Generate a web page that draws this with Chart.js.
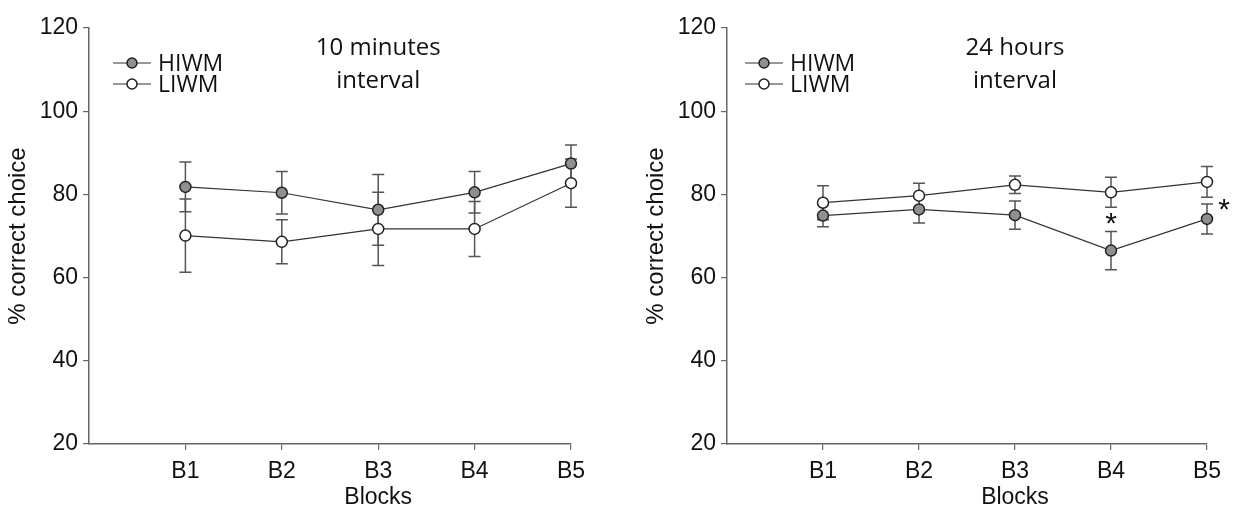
<!DOCTYPE html>
<html>
<head>
<meta charset="utf-8">
<script src="https://cdn.jsdelivr.net/npm/chart.js@4.4.1/dist/chart.umd.min.js"></script>
<style>
  body { margin: 0; background: #fff; }
  #wrap { position: relative; width: 1233px; height: 512px; }
  canvas { position: absolute; top: 0; }
</style>
</head>
<body>
<div id="wrap">
  <canvas id="left" width="620" height="512" style="left:0px"></canvas>
  <canvas id="right" width="595" height="512" style="left:638px"></canvas>
</div>
<script>
// data
var blocks = ['B1', 'B2', 'B3', 'B4', 'B5'];
var yTicks = [20, 40, 60, 80, 100, 120];
var seriesNames = ['HIWM', 'LIWM'];

var hiwm10 = [81.8, 80.4, 76.3, 80.5, 87.4];
var hiwm10Err = [6.0, 5.1, 8.5, 5.0, 4.5];
var liwm10 = [70.1, 68.6, 71.7, 71.7, 82.7];
var liwm10Err = [8.8, 5.3, 8.8, 6.6, 5.8];

var hiwm24 = [74.9, 76.4, 75.0, 66.5, 74.1];
var hiwm24Err = [2.7, 3.3, 3.4, 4.6, 3.6];
var liwm24 = [78.0, 79.7, 82.3, 80.5, 83.0];
var liwm24Err = [4.1, 3.0, 2.1, 3.6, 3.7];

// where the significance star goes for HIWM in each block ('' = none)
var sig10 = ['', '', '', '', ''];
var sig24 = ['', '', '', 'above', 'right'];

var titleFont = '"Open Sans", sans-serif';
var axisFont = '"Liberation Sans", Arial, sans-serif';

function toPoints(vals) {
  return vals.map(function (v, i) { return { x: i + 1, y: v }; });
}

// error bars, legend, panel title, x title and stars
var extras = {
  id: 'extras',
  beforeDatasetsDraw: function (chart) {
    var ctx = chart.ctx;
    var xs = chart.scales.x, ys = chart.scales.y;
    chart.data.datasets.forEach(function (ds) {
      ds.err.forEach(function (e, i) {
        var px = xs.getPixelForValue(i + 1);
        var top = ys.getPixelForValue(ds.data[i].y + e);
        var bot = ys.getPixelForValue(ds.data[i].y - e);
        ctx.save();
        ctx.strokeStyle = '#555';
        ctx.lineWidth = 1.5;
        ctx.beginPath();
        ctx.moveTo(px, top); ctx.lineTo(px, bot);
        ctx.moveTo(px - 6, top); ctx.lineTo(px + 6, top);
        ctx.moveTo(px - 6, bot); ctx.lineTo(px + 6, bot);
        ctx.stroke();
        ctx.restore();
      });
    });
  },
  afterDraw: function (chart) {
    var ctx = chart.ctx;
    var opts = chart.options.plugins.extras;
    var xs = chart.scales.x, ys = chart.scales.y;
    var area = chart.chartArea;

    // legend
    chart.data.datasets.forEach(function (ds, k) {
      var y = opts.legendY + k * 21;
      var mx = area.left + opts.legendX;
      ctx.save();
      ctx.strokeStyle = '#333';
      ctx.lineWidth = 1.2;
      ctx.beginPath();
      ctx.moveTo(mx - 19, y); ctx.lineTo(mx + 19, y);
      ctx.stroke();
      ctx.beginPath();
      ctx.arc(mx, y, 5, 0, Math.PI * 2);
      ctx.fillStyle = ds.pointBackgroundColor;
      ctx.fill();
      ctx.lineWidth = 1.5;
      ctx.strokeStyle = '#222';
      ctx.stroke();
      ctx.fillStyle = '#111';
      ctx.font = '23px ' + titleFont;
      ctx.textAlign = 'left';
      ctx.textBaseline = 'middle';
      ctx.fillText(ds.label, mx + 26, y + 1);
      ctx.restore();
    });

    // panel title
    var cx = xs.getPixelForValue(3);
    ctx.save();
    ctx.fillStyle = '#111';
    ctx.font = '24px ' + titleFont;
    ctx.textAlign = 'center';
    ctx.textBaseline = 'middle';
    opts.title.forEach(function (line, i) {
      ctx.fillText(line, cx, 48 + i * 33);
    });

    // x axis title centred under B3
    ctx.font = '23px ' + axisFont;
    ctx.fillText('Blocks', cx, 498);

    // stars
    var hi = chart.data.datasets[0];
    ctx.font = '30px ' + axisFont;
    opts.sig.forEach(function (s, i) {
      if (!s) return;
      var px = xs.getPixelForValue(i + 1);
      var topY = ys.getPixelForValue(hi.data[i].y + hi.err[i]);
      if (s === 'above') ctx.fillText('*', px, topY - 7);
      else ctx.fillText('*', px + 17, topY + 7);
    });
    ctx.restore();
  }
};

function makeChart(id, hi, hiErr, lo, loErr, title, sig, legendX, padRight) {
  return new Chart(document.getElementById(id), {
    type: 'line',
    data: {
      datasets: [
        { label: seriesNames[0], data: toPoints(hi), err: hiErr, clip: false,
          borderColor: '#333', borderWidth: 1.2,
          pointBackgroundColor: '#8f8f8f', pointBorderColor: '#222',
          pointBorderWidth: 1.5, pointRadius: 5.5 },
        { label: seriesNames[1], data: toPoints(lo), err: loErr, clip: false,
          borderColor: '#333', borderWidth: 1.2,
          pointBackgroundColor: '#ffffff', pointBorderColor: '#222',
          pointBorderWidth: 1.5, pointRadius: 5.5 }
      ]
    },
    options: {
      responsive: false,
      animation: false,
      layout: { padding: { top: 28, right: padRight, bottom: 0, left: 0 } },
      plugins: {
        legend: { display: false },
        tooltip: { enabled: false },
        extras: { title: title, sig: sig, legendX: legendX, legendY: 63 }
      },
      scales: {
        x: {
          type: 'linear', min: 0, max: 5,
          afterBuildTicks: function (s) {
            s.ticks = blocks.map(function (b, i) { return { value: i + 1 }; });
          },
          afterFit: function (s) { s.height = 68; },
          ticks: {
            callback: function (v) { return blocks[v - 1]; },
            color: '#111', font: { family: axisFont, size: 23 }, padding: 8,
            maxRotation: 0, autoSkip: false
          },
          grid: { drawOnChartArea: false, drawTicks: true, tickLength: 6, color: '#666', lineWidth: 1.2 },
          border: { display: true, color: '#666', width: 1.5 }
        },
        y: {
          min: 20, max: 120,
          afterBuildTicks: function (s) {
            s.ticks = yTicks.map(function (v) { return { value: v }; });
          },
          afterFit: function (s) { s.width = 89; },
          ticks: {
            color: '#111', font: { family: axisFont, size: 23 }, padding: 5
          },
          grid: { drawOnChartArea: false, drawTicks: true, tickLength: 6, color: '#666', lineWidth: 1.2 },
          border: { display: true, color: '#666', width: 1.5 },
          title: {
            display: true, text: '% correct choice', color: '#111',
            font: { family: axisFont, size: 24 }, padding: { top: 4, bottom: 0 }
          }
        }
      }
    },
    plugins: [extras]
  });
}

makeChart('left', hiwm10, hiwm10Err, liwm10, liwm10Err, ['10 minutes', 'interval'], sig10, 43, 49);
makeChart('right', hiwm24, hiwm24Err, liwm24, liwm24Err, ['24 hours', 'interval'], sig24, 37, 26);
</script>
</body>
</html>
